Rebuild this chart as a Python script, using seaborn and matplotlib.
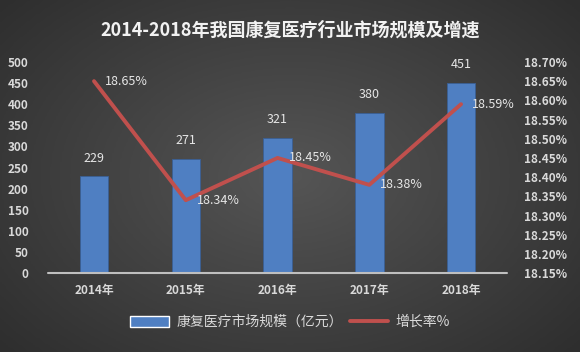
import numpy as np
import matplotlib
matplotlib.use("Agg")
import matplotlib.pyplot as plt
import seaborn as sns
import pandas as pd
from matplotlib.patches import Patch
from matplotlib.lines import Line2D

years = ["2014年", "2015年", "2016年", "2017年", "2018年"]
market_size = [229, 271, 321, 380, 451]
growth_rate = [18.65, 18.34, 18.45, 18.38, 18.59]

sns.set_theme(style="dark")
plt.rcParams['font.family'] = ['Noto Sans CJK SC', 'DejaVu Sans']

fig = plt.figure(figsize=(5.8, 3.52), dpi=100)

# dark gradient background
bg = fig.add_axes([0, 0, 1, 1])
yy, xx = np.mgrid[-1:1:200j, -1:1:300j]
r = np.sqrt(xx ** 2 + (yy * 0.9) ** 2)
bg.imshow(np.clip(1 - r / 1.5, 0, 1), cmap=matplotlib.colors.LinearSegmentedColormap.from_list(
    "g", ["#2e2e2e", "#555555"]), aspect="auto", extent=[0, 1, 0, 1])
bg.set_axis_off()

ax = fig.add_axes([0.083, 0.224, 0.791, 0.6])
ax.patch.set_alpha(0)
df = pd.DataFrame({"year": years, "size": market_size})
sns.barplot(data=df, x="year", y="size", color="#4f7fc2", width=0.31,
            saturation=1, edgecolor="#3a5f94", linewidth=0.6, ax=ax, zorder=2)
ax.set_ylim(0, 500)
ax.set_yticks(range(0, 501, 50))
ax.set_xlim(-0.5, 4.5)
ax.set_xlabel("")
ax.set_ylabel("")
for i, v in enumerate(market_size):
    ax.text(i, v + 28, str(v), ha="center", va="bottom", color="#e6e6e6", fontsize=9)

ax2 = ax.twinx()
ax2.plot(range(len(years)), growth_rate, color="#c0504d", lw=2.8, zorder=3)
ax2.set_ylim(18.15, 18.70)
ax2.set_yticks(np.arange(18.15, 18.701, 0.05))
ax2.set_yticklabels([f"{v:.2f}%" for v in np.arange(18.15, 18.701, 0.05)])
for i, v in enumerate(growth_rate):
    ax2.text(i + 0.12, v, f"{v:.2f}%", ha="left", va="center", color="#e6e6e6", fontsize=9)

for a in (ax, ax2):
    for s in a.spines.values():
        s.set_visible(False)
    a.tick_params(length=0, colors="#d9d9d9", labelsize=8.5)
    a.grid(False)
ax.tick_params(axis="y", pad=14)
ax.tick_params(axis="x", pad=8)
ax2.tick_params(axis="y", pad=12)
for t in ax.get_yticklabels() + ax2.get_yticklabels() + ax.get_xticklabels():
    t.set_fontweight("bold")
ax.axhline(0, color="#bfbfbf", lw=1.5, zorder=4, clip_on=False)

fig.text(0.5, 0.915, "2014-2018年我国康复医疗行业市场规模及增速", ha="center", va="center",
         fontsize=13, fontweight="bold", color="#f2f2f2")

handles = [Patch(facecolor="#4f7fc2", label="康复医疗市场规模（亿元）"),
           Line2D([0], [0], color="#c0504d", lw=2.8, label="增长率%")]
fig.legend(handles=handles, loc="center", bbox_to_anchor=(0.5, 0.085), ncol=2, frameon=False,
           fontsize=10, labelcolor="#d9d9d9", handlelength=2.8, handleheight=0.8, columnspacing=0.5,
           handletextpad=0.5)

fig.savefig("out.png", dpi=100)
